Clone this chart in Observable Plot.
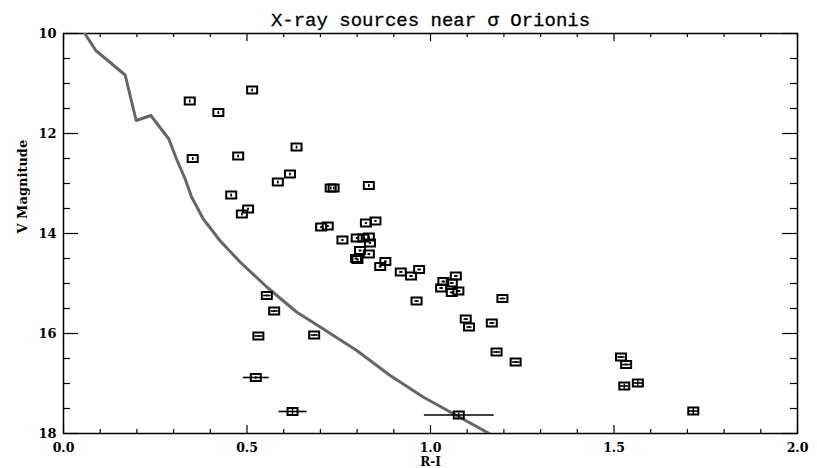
<!DOCTYPE html>
<html>
<head>
<meta charset="utf-8">
<script src="https://cdn.jsdelivr.net/npm/d3@7"></script>
<script src="https://cdn.jsdelivr.net/npm/@observablehq/plot@0.6"></script>
<style>
  body { margin: 0; background: #fff; }
  #chart svg { display: block; }
</style>
</head>
<body>
<div id="chart"></div>
<script>
// X-ray sources: R-I colour, V magnitude and their errors
const ri = [0.344, 0.514, 0.422, 0.352, 0.476, 0.635, 0.457, 0.584, 0.617, 0.503,
  0.486, 0.728, 0.736, 0.832, 0.702, 0.720, 0.760, 0.824, 0.850, 0.799,
  0.817, 0.832, 0.835, 0.808, 0.832, 0.797, 0.801, 0.877, 0.863, 0.919,
  0.947, 0.969, 1.069, 1.035, 1.058, 1.029, 1.058, 1.076, 0.962, 1.196,
  0.554, 0.574, 0.531, 0.683, 1.096, 1.105, 1.167, 1.180, 1.232, 1.519,
  1.533, 1.528, 1.565, 1.716, 0.524, 0.624, 1.077];
const vmag = [11.35, 11.13, 11.58, 12.50, 12.45, 12.27, 13.23, 12.97, 12.81, 13.51,
  13.61, 13.09, 13.09, 13.04, 13.87, 13.85, 14.13, 13.79, 13.75, 14.09,
  14.09, 14.07, 14.19, 14.34, 14.41, 14.50, 14.52, 14.56, 14.66, 14.77,
  14.85, 14.72, 14.85, 14.96, 14.99, 15.09, 15.18, 15.15, 15.35, 15.30,
  15.24, 15.55, 16.05, 16.03, 15.71, 15.87, 15.79, 16.37, 16.57, 16.47,
  16.62, 17.05, 16.99, 17.55, 16.88, 17.56, 17.63];
const riErr = [0.002, 0.002, 0.002, 0.002, 0.002, 0.002, 0.002, 0.002, 0.002, 0.002,
  0.002, 0.002, 0.002, 0.002, 0.003, 0.003, 0.003, 0.003, 0.003, 0.003,
  0.003, 0.003, 0.003, 0.004, 0.004, 0.004, 0.004, 0.004, 0.004, 0.005,
  0.005, 0.005, 0.005, 0.005, 0.005, 0.005, 0.005, 0.005, 0.006, 0.008,
  0.010, 0.010, 0.011, 0.010, 0.006, 0.007, 0.007, 0.010, 0.011, 0.010,
  0.011, 0.012, 0.012, 0.012, 0.035, 0.038, 0.095];
const vErr = [0.03, 0.03, 0.03, 0.03, 0.03, 0.03, 0.03, 0.03, 0.03, 0.03,
  0.03, 0.03, 0.03, 0.03, 0.02, 0.02, 0.02, 0.02, 0.02, 0.02,
  0.02, 0.02, 0.02, 0.02, 0.02, 0.02, 0.02, 0.02, 0.02, 0.02,
  0.02, 0.02, 0.02, 0.02, 0.02, 0.02, 0.02, 0.02, 0.02, 0.02,
  0.02, 0.02, 0.02, 0.02, 0.02, 0.02, 0.02, 0.02, 0.02, 0.02,
  0.02, 0.05, 0.05, 0.07, 0.03, 0.07, 0.05];

// Isochrone traced in the colour-magnitude plane
const isoRI = [0.058, 0.088, 0.168, 0.198, 0.238, 0.287, 0.308, 0.331, 0.349, 0.381,
  0.426, 0.481, 0.554, 0.635, 0.708, 0.799, 0.890, 0.980, 1.071, 1.160];
const isoV = [10.00, 10.34, 10.83, 11.74, 11.64, 12.11, 12.51, 12.90, 13.27, 13.71,
  14.14, 14.57, 15.07, 15.57, 15.91, 16.34, 16.84, 17.27, 17.64, 18.00];

// Axis ticks
const xMajorTicks = [0, 0.5, 1.0, 1.5, 2.0];
const xMinorTicks = [0.1, 0.2, 0.3, 0.4, 0.6, 0.7, 0.8, 0.9, 1.1, 1.2, 1.3, 1.4, 1.6, 1.7, 1.8, 1.9];
const yMajorTicks = [10, 12, 14, 16, 18];
const yMinorTicks = [10.5, 11, 11.5, 12.5, 13, 13.5, 14.5, 15, 15.5, 16.5, 17, 17.5];

const title = "X-ray sources near σ Orionis";
const xLabel = "R-I";
const yLabel = "V Magnitude";

const stars = ri.map((x, i) => ({ri: x, v: vmag[i], dx: riErr[i], dv: vErr[i]}));
const iso = isoRI.map((x, i) => ({ri: x, v: isoV[i]}));

const W = 817, H = 468;
const mL = 63, mR = 20, mT = 33, mB = 35;
const FW = W - mL - mR, FH = H - mT - mB;

// open rectangle marker, wider than tall
const boxSymbol = {
  draw(ctx) { ctx.rect(-5, -3.5, 10, 7); }
};

const serif = "DejaVu Serif";

const chart = Plot.plot({
  width: W,
  height: H,
  marginLeft: mL,
  marginRight: mR,
  marginTop: mT,
  marginBottom: mB,
  style: {background: "#fff", color: "#000", fontFamily: serif},
  x: {domain: [0, 2], axis: null},
  y: {domain: [10, 18], reverse: true, axis: null},
  marks: [
    // inward ticks on all four sides
    Plot.ruleX(xMajorTicks, {x: d => d, insetTop: FH - 8, stroke: "#000", strokeWidth: 1.2}),
    Plot.ruleX(xMajorTicks, {x: d => d, insetBottom: FH - 8, stroke: "#000", strokeWidth: 1.2}),
    Plot.ruleX(xMinorTicks, {x: d => d, insetTop: FH - 4, stroke: "#000", strokeWidth: 1.2}),
    Plot.ruleX(xMinorTicks, {x: d => d, insetBottom: FH - 4, stroke: "#000", strokeWidth: 1.2}),
    Plot.ruleY(yMajorTicks, {y: d => d, insetRight: FW - 15, stroke: "#000", strokeWidth: 1.2}),
    Plot.ruleY(yMajorTicks, {y: d => d, insetLeft: FW - 15, stroke: "#000", strokeWidth: 1.2}),
    Plot.ruleY(yMinorTicks, {y: d => d, insetRight: FW - 7, stroke: "#000", strokeWidth: 1.2}),
    Plot.ruleY(yMinorTicks, {y: d => d, insetLeft: FW - 7, stroke: "#000", strokeWidth: 1.2}),
    Plot.frame({stroke: "#000", strokeWidth: 1.5}),

    // tick labels
    Plot.text(xMajorTicks, {x: d => d, frameAnchor: "bottom", lineAnchor: "middle", dy: 14,
      text: d => d3.format(".1f")(d), fontSize: 12.5, fontWeight: "bold", fontFamily: serif}),
    Plot.text(yMajorTicks, {y: d => d, frameAnchor: "left", lineAnchor: "middle", dx: -7, textAnchor: "end",
      text: d => String(d), fontSize: 13, fontWeight: "bold", fontFamily: serif}),

    // axis titles and chart title
    Plot.text([xLabel], {frameAnchor: "bottom", lineAnchor: "middle", dy: 29, text: d => d,
      fontSize: 12, fontWeight: "bold", fontFamily: serif}),
    Plot.text([yLabel], {frameAnchor: "left", lineAnchor: "middle", dx: -41, rotate: -90, text: d => d,
      fontSize: 13, fontWeight: "bold", fontFamily: serif}),
    Plot.text([title], {frameAnchor: "top", lineAnchor: "middle", dy: -14, text: d => d,
      fontSize: 19, fontFamily: "Liberation Mono", fill: "#000", stroke: "#000", strokeWidth: 0.3}),

    // isochrone
    Plot.line(iso, {x: "ri", y: "v", stroke: "#666", strokeWidth: 3, clip: true}),

    // error bars
    Plot.link(stars, {x1: d => d.ri - d.dx, x2: d => d.ri + d.dx, y1: "v", y2: "v", stroke: "#000", strokeWidth: 1.6}),
    Plot.link(stars, {x1: "ri", x2: "ri", y1: d => d.v - d.dv, y2: d => d.v + d.dv, stroke: "#000", strokeWidth: 1.4}),

    // sources
    Plot.dot(stars, {x: "ri", y: "v", symbol: boxSymbol, stroke: "#000", strokeWidth: 2, fill: "none"})
  ]
});

document.getElementById("chart").appendChild(chart);
</script>
</body>
</html>
